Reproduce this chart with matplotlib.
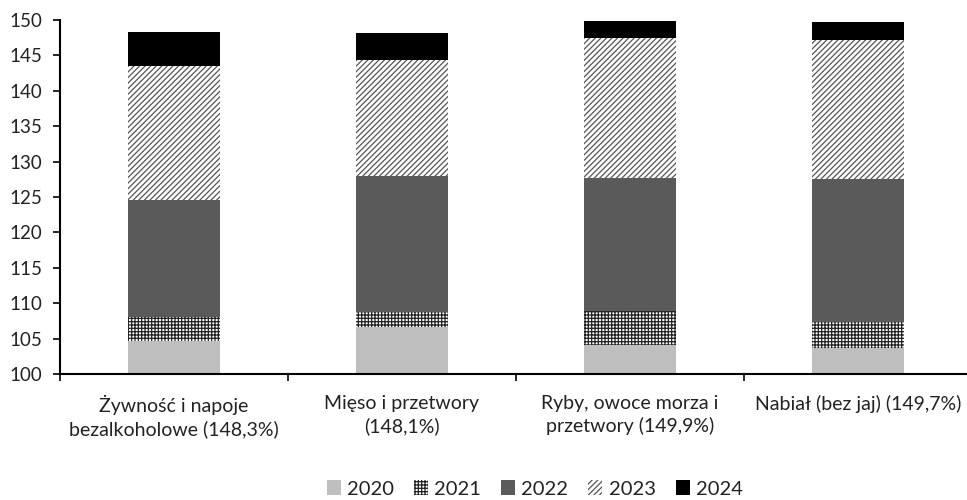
import matplotlib
matplotlib.use("Agg")
import matplotlib.pyplot as plt
import numpy as np

plt.rcParams['font.family'] = ['Lato', 'DejaVu Sans']
plt.rcParams['hatch.linewidth'] = 0.9

categories = [
    "Żywność i napoje\nbezalkoholowe (148,3%)",
    "Mięso i przetwory\n(148,1%)",
    "Ryby, owoce morza i\nprzetwory (149,9%)",
    "Nabiał (bez jaj) (149,7%)",
]
years = ["2020", "2021", "2022", "2023", "2024"]

# cumulative index level at the end of each year (2019 = 100)
level_2020 = [104.6, 106.6, 104.1, 103.7]
level_2021 = [108.1, 108.8, 108.9, 107.3]
level_2022 = [124.6, 127.9, 127.7, 127.6]
level_2023 = [143.5, 144.3, 147.5, 147.2]
level_2024 = [148.3, 148.1, 149.9, 149.7]

levels = [level_2020, level_2021, level_2022, level_2023, level_2024]
base = 100

styles = [
    dict(facecolor="#bfbfbf", hatch=None, edgecolor="#bfbfbf"),
    dict(facecolor="white", hatch="+++++", edgecolor="#222222"),
    dict(facecolor="#5a5a5a", hatch=None, edgecolor="#5a5a5a"),
    dict(facecolor="white", hatch="//////", edgecolor="#555555"),
    dict(facecolor="black", hatch=None, edgecolor="black"),
]

fig = plt.figure(figsize=(9.67, 5.0), dpi=100)
ax = fig.add_axes([60 / 967, 126 / 500, 912 / 967, 354 / 500])

x = np.arange(len(categories))
bottom = np.full(len(categories), float(base))
for yr, lev, st in zip(years, levels, styles):
    lev = np.array(lev, dtype=float)
    ax.bar(x, lev - bottom, bottom=bottom, width=0.40, label=yr,
           facecolor=st["facecolor"], hatch=st["hatch"],
           edgecolor=st["edgecolor"], linewidth=0)
    bottom = lev

ax.set_xlim(-0.5, len(categories) - 0.5)
ax.set_ylim(100, 150)
ax.set_yticks(np.arange(100, 151, 5))
ax.tick_params(axis="y", labelsize=13.5, length=5, width=1.2, direction="out", pad=8,
               labelcolor="#222222")

ax.set_xticks(x)
ax.set_xticklabels(categories, fontsize=14, linespacing=1.35, color="#222222")
ax.tick_params(axis="x", length=0, pad=15)
ax.set_xticks(np.arange(-0.5, len(categories), 1.0), minor=True)
ax.tick_params(axis="x", which="minor", length=5, width=1.2, direction="out")

for s in ["top", "right"]:
    ax.spines[s].set_visible(False)
for s in ["left", "bottom"]:
    ax.spines[s].set_linewidth(1.5)
    ax.spines[s].set_color("black")

leg = fig.legend(loc="center", bbox_to_anchor=(0.553, 0.022), ncol=5, frameon=False,
                 fontsize=14.5, handlelength=0.7, handleheight=0.7,
                 handletextpad=0.3, columnspacing=1.0)
for t in leg.get_texts():
    t.set_color("#222222")

fig.savefig("out.png", dpi=100)
